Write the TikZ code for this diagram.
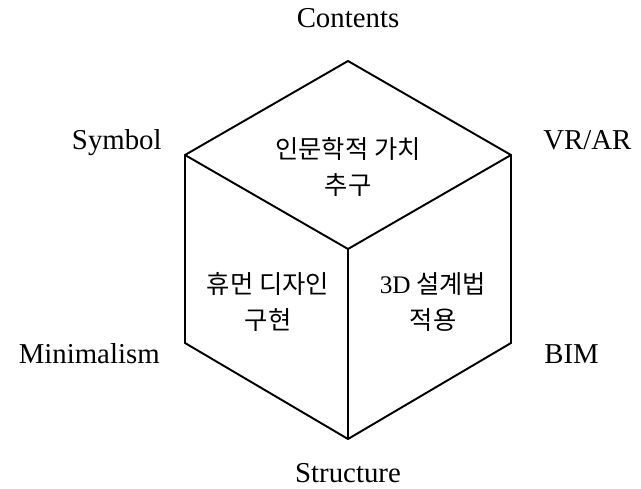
\documentclass[tikz,border=0pt]{standalone}
\usepackage{fontspec}
\usepackage{tikz}
\usetikzlibrary{positioning}
\setmainfont{Liberation Serif}
\newfontfamily\korFont{Noto Sans CJK KR}
\tikzset{
  edge/.style={line width=1.1pt, line join=miter},
  cornerLabel/.style={inner sep=0pt, font=\fontsize{16.4}{20}\selectfont},
  faceText/.style={inner sep=0pt, align=center, font=\korFont\fontsize{14.4}{21}\selectfont}
}
\begin{document}
\begin{tikzpicture}[x=0.02cm, y=-0.02cm]
  \useasboundingbox (0,0) rectangle (641,489);
  % cube corners
  \coordinate (top) at (348,61);
  \coordinate (lt) at (185,155);
  \coordinate (rt) at (511,155);
  \coordinate (mid) at (348,249);
  \coordinate (lb) at (185,343);
  \coordinate (rb) at (511,343);
  \coordinate (bot) at (348,439);
  \draw[edge] (top) -- (rt) -- (rb) -- (bot) -- (lb) -- (lt) -- cycle;
  \draw[edge] (lt) -- (mid) -- (rt);
  \draw[edge] (mid) -- (bot);
  % corner labels
  \node[cornerLabel, anchor=base] (contents) at (348,28) {Contents};
  \node[cornerLabel, anchor=base east] (symbol) at (162,150) {Symbol};
  \node[cornerLabel, anchor=base west] (vrar) at (543,150) {VR/AR};
  \node[cornerLabel, anchor=base east] (minimal) at (160,363) {Minimalism};
  \node[cornerLabel, anchor=base west] (bim) at (544,363) {BIM};
  \node[cornerLabel, anchor=base] (structure) at (348,482) {Structure};
  % face texts
  \node[faceText] (topFace) at (348,167) {인문학적 가치\\추구};
  \node[faceText] (leftFace) at (268,302) {휴먼 디자인\\구현};
  \node[faceText] (rightFace) at (433,302) {{\rmfamily 3D} 설계법\\적용};
\end{tikzpicture}
\end{document}
